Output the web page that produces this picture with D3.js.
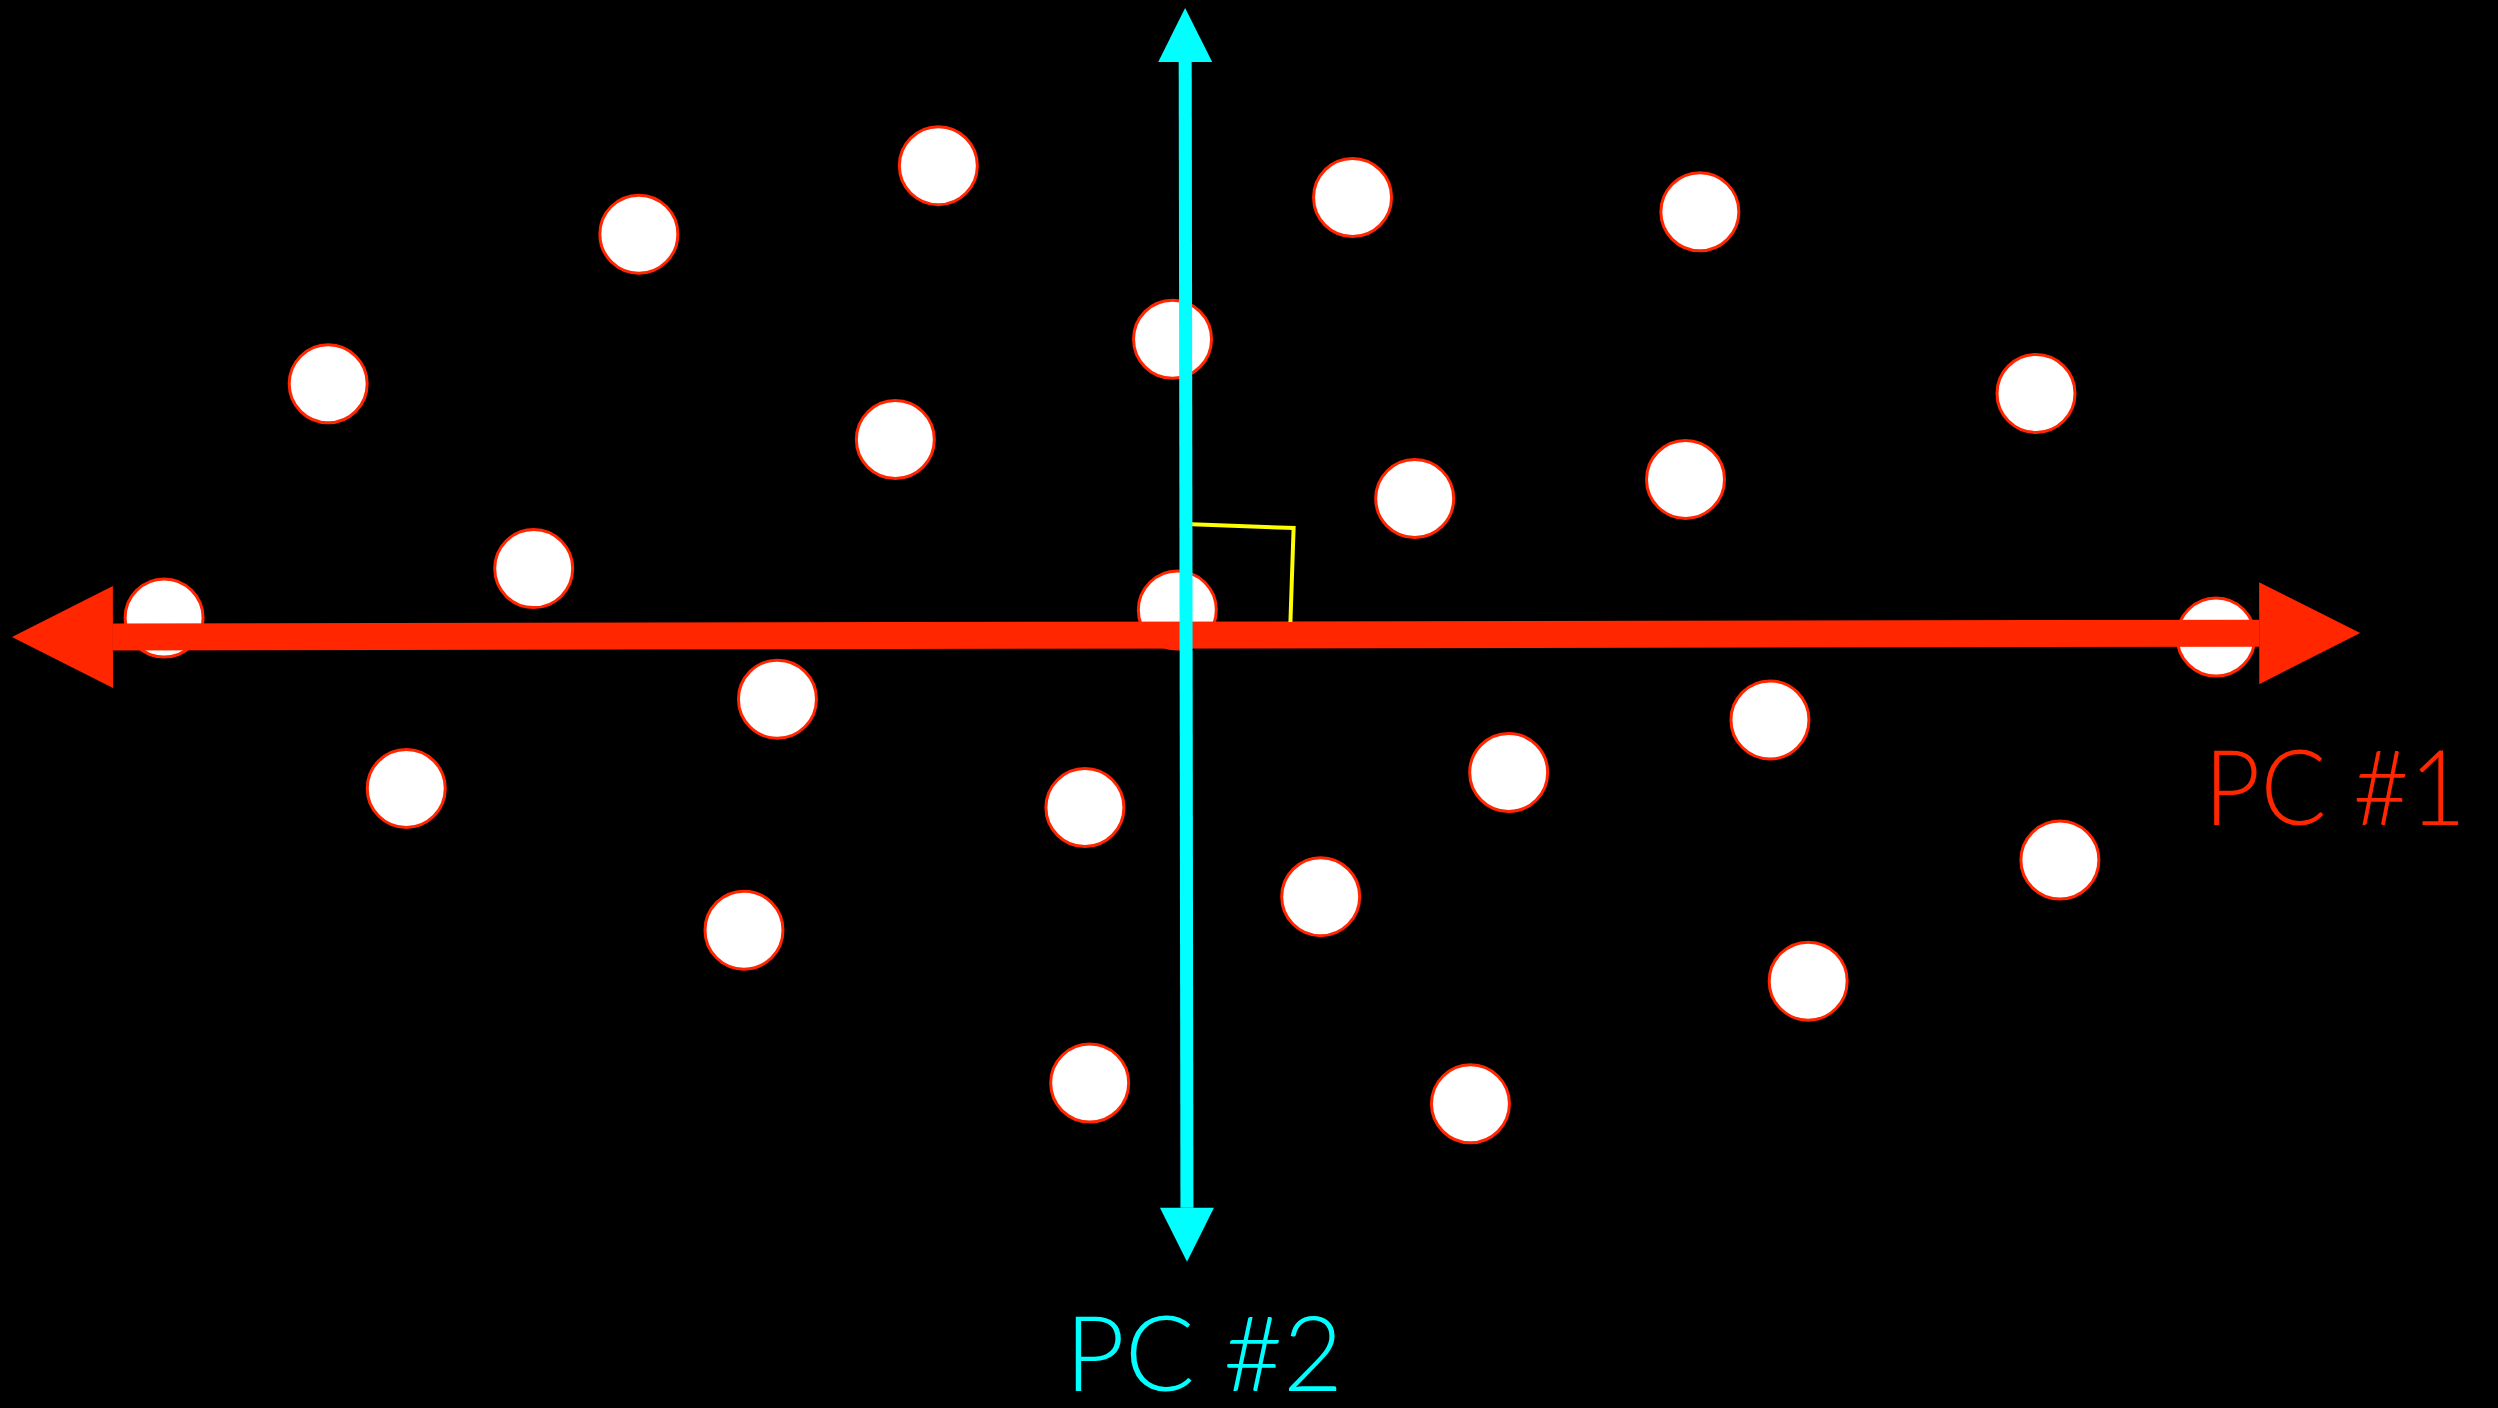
<!DOCTYPE html>
<html>
<head>
<meta charset="utf-8">
<script src="https://cdn.jsdelivr.net/npm/d3@7"></script>
<style>
html,body{margin:0;padding:0;background:#000;}
svg{display:block;}
</style>
</head>
<body>
<svg id="chart" width="2498" height="1408"></svg>
<script>
// Data points (coordinates, in a 1568 x 884 frame)
const pointX = [103, 206, 401, 589, 335, 562, 736, 739, 849, 1067, 888, 1058, 1278, 1391, 488, 255, 681, 467, 947, 1111, 829, 1293, 1135, 684, 923];
const pointY = [388, 241, 147, 104, 357, 276, 213, 383, 124, 133, 313, 301, 247, 400, 439, 495, 507, 584, 485, 452, 563, 540, 616, 680, 693];

// Principal component axes (tip-to-tip) in the same frame
const pc1X = [7.5, 1481.5];
const pc1Y = [400, 397.4];
const pc2X = [743.9, 745.1];
const pc2Y = [5, 792.2];

// Right-angle marker
const rightAngleX = [744, 812, 810];
const rightAngleY = [329, 331.5, 390.5];

const labels = ["PC #1", "PC #2"];

const W = 2498, H = 1408;
const x = d3.scaleLinear().domain([0, 1568]).range([0, W]);
const y = d3.scaleLinear().domain([0, 884]).range([0, H]);

const svg = d3.select("#chart");
svg.append("rect").attr("width", W).attr("height", H).attr("fill", "#000");

const RED = "#ff2600", CYAN = "#00ffff", YELLOW = "#ffff00";

// points
svg.append("g").selectAll("circle")
  .data(pointX.map((v, i) => ({x: v, y: pointY[i]})))
  .join("circle")
  .attr("cx", d => x(d.x))
  .attr("cy", d => y(d.y))
  .attr("r", 39)
  .attr("fill", "#fff")
  .attr("stroke", RED)
  .attr("stroke-width", 3);

function arrow(xs, ys, color, shaftW, headLen, headHalf) {
  const x0 = x(xs[0]), y0 = y(ys[0]), x1 = x(xs[1]), y1 = y(ys[1]);
  const dx = x1 - x0, dy = y1 - y0, L = Math.hypot(dx, dy);
  const ux = dx / L, uy = dy / L, nx = -uy, ny = ux;
  const b0 = [x0 + ux * headLen, y0 + uy * headLen];
  const b1 = [x1 - ux * headLen, y1 - uy * headLen];
  const g = svg.append("g");
  g.append("line")
    .attr("x1", b0[0]).attr("y1", b0[1]).attr("x2", b1[0]).attr("y2", b1[1])
    .attr("stroke", color).attr("stroke-width", shaftW);
  const head = (tip, base) => [
    tip,
    [base[0] + nx * headHalf, base[1] + ny * headHalf],
    [base[0] - nx * headHalf, base[1] - ny * headHalf]
  ];
  g.selectAll("polygon")
    .data([head([x0, y0], b0), head([x1, y1], b1)])
    .join("polygon")
    .attr("points", d => d.map(p => p.join(",")).join(" "))
    .attr("fill", color);
}

arrow(pc1X, pc1Y, RED, 27, 101, 51);

svg.append("polyline")
  .attr("points", rightAngleX.map((v, i) => [x(v), y(rightAngleY[i])].join(",")).join(" "))
  .attr("fill", "none")
  .attr("stroke", YELLOW)
  .attr("stroke-width", 4);

arrow(pc2X, pc2Y, CYAN, 13, 54, 27);

const font = "Lato, 'Open Sans', sans-serif";
svg.append("text")
  .attr("x", 2204).attr("y", 825)
  .attr("fill", RED)
  .attr("font-family", font)
  .attr("font-weight", 300)
  .attr("font-size", 105)
  .attr("textLength", 262)
  .attr("lengthAdjust", "spacingAndGlyphs")
  .text(labels[0]);

svg.append("text")
  .attr("x", 1065).attr("y", 1391)
  .attr("fill", CYAN)
  .attr("font-family", font)
  .attr("font-weight", 300)
  .attr("font-size", 105)
  .attr("textLength", 278)
  .attr("lengthAdjust", "spacingAndGlyphs")
  .text(labels[1]);
</script>
</body>
</html>
